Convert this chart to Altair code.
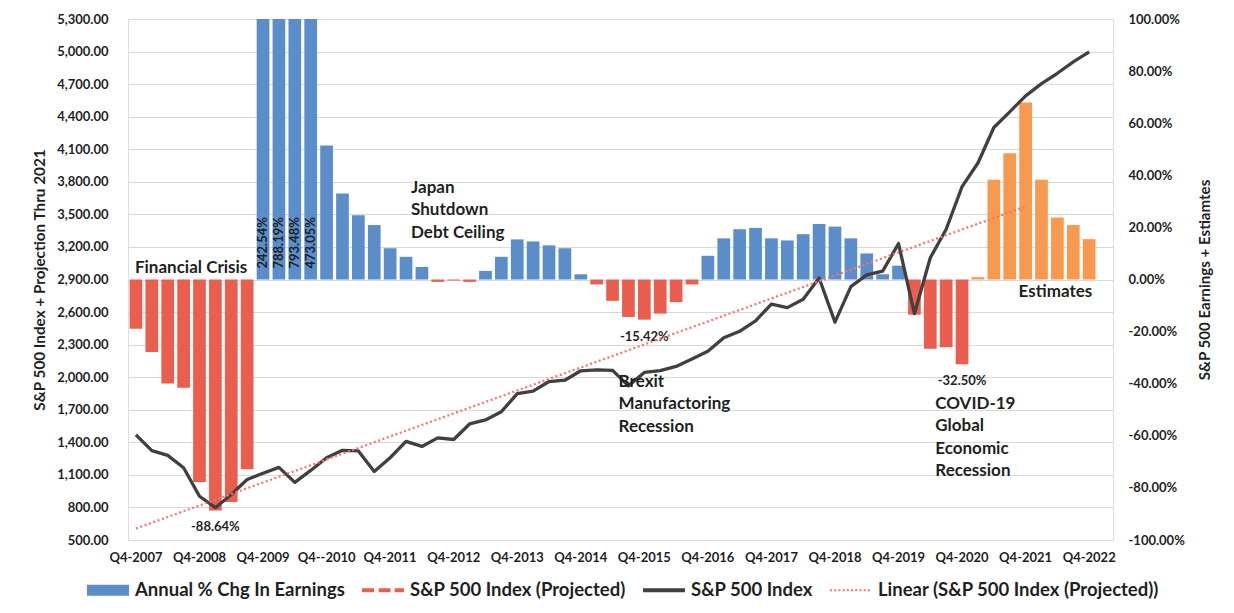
import altair as alt
import pandas as pd

# ---------------- data ----------------
tick_labels = ["Q4-2007", "Q4-2008", "Q4-2009", "Q4--2010", "Q4-2011", "Q4-2012",
               "Q4-2013", "Q4-2014", "Q4-2015", "Q4-2016", "Q4-2017", "Q4-2018",
               "Q4-2019", "Q4-2020", "Q4-2021", "Q4-2022"]
quarters = []
for k, lab in enumerate(tick_labels):
    quarters.append(lab)
    if k < len(tick_labels) - 1:
        quarters += [f"Q{n}-{2008 + k}" for n in (1, 2, 3)]
quarters.append("Q1-2023")

earnings_pct = [-18.9, -27.8, -39.9, -41.6, -77.7, -88.64, -85.4, -72.8,
                242.54, 788.19, 793.48, 473.05, 51.4, 33.0, 24.7, 20.9,
                12.0, 8.7, 4.8, -0.9, -0.4, -0.9, 3.3, 8.7,
                15.4, 14.6, 13.1, 12.0, 2.0, -1.9, -8.2, -14.4,
                -15.42, -13.1, -8.7, -1.9, 9.1, 15.8, 19.3, 19.8,
                15.8, 15.0, 17.4, 21.3, 20.3, 15.8, 10.0, 2.0,
                5.3, -13.5, -26.6, -26.0, -32.50, 0.9, 38.3, 48.5,
                67.9, 38.3, 23.8, 20.9, 15.5]

sp500 = [1468, 1323, 1280, 1166, 903, 798, 919, 1057,
         1115, 1169, 1031, 1141, 1258, 1326, 1321, 1131,
         1258, 1408, 1362, 1441, 1426, 1569, 1606, 1682,
         1848, 1872, 1960, 1972, 2059, 2068, 2063, 1920,
         2044, 2060, 2099, 2168, 2239, 2363, 2423, 2519,
         2674, 2641, 2718, 2914, 2507, 2834, 2942, 2977,
         3231, 2585, 3100, 3363, 3756, 3973, 4300, 4445,
         4592, 4705, 4800, 4905, 4997]

projected_end = "Q4-2021"
estimate_start = "Q1-2021"
trend_quarters = ["Q4-2007", "Q4-2021"]
trend_values = [606, 3573]
label_quarters = ["Q1-2009", "Q4-2015", "Q4-2020"]

legend_names = ["Annual % Chg In Earnings", "S&P 500 Index (Projected)",
                "S&P 500 Index", "Linear (S&P 500 Index (Projected))"]

ann_texts = ["Financial Crisis", "Japan\nShutdown\nDebt Ceiling",
             "Brexit\nManufactoring\nRecession",
             "COVID-19\nGlobal\nEconomic\nRecession", "Estimates"]
ann_quarters = ["Q4-2007", "Q1-2012", "Q2-2015", "Q2-2020", "Q2-2022"]
ann_values = [2958, 3700, 1912, 1710, 2742]

# ---------------- styles ----------------
BLUE = "#5B8DCB"
RED = "#EA5E4F"
ORANGE = "#F79A50"
DARK = "#404040"
SALMON = "#F2776E"
TEXT = "#1F1F1F"
GRID = "#D9D9D9"
FONT = "Lato"

n_data = len(earnings_pct)
est_i = quarters.index(estimate_start)
bar_df = pd.DataFrame({"q": quarters[:n_data], "pct": earnings_pct, "i": list(range(n_data))})
bar_df["kind"] = ["est" if i >= est_i else ("neg" if p < 0 else "pos")
                  for i, p in zip(bar_df["i"], bar_df["pct"])]
bar_df["lbl"] = [f"{p:.2f}%" for p in bar_df["pct"]]
bar_df["base"] = 0

sp_df = pd.DataFrame({"q": quarters[:n_data], "v": sp500, "i": list(range(n_data))})
proj_n = quarters.index(projected_end) + 1
proj_df = sp_df.iloc[:proj_n].copy()
trend_df = pd.DataFrame({"q": trend_quarters, "v": trend_values,
                         "i": [quarters.index(q) for q in trend_quarters]})

x_axis = alt.Axis(values=tick_labels, labelAngle=0, ticks=False, domain=False, grid=False,
                  labelPadding=11, labelFont=FONT, labelFontSize=13, labelFontWeight="bold",
                  labelColor=TEXT, labelOverlap=False, title=None)
x_scale = alt.Scale(domain=quarters, paddingInner=0.2, paddingOuter=0.1)


def X(point=False):
    if point:
        return alt.X("q:N", scale=x_scale, axis=x_axis, bandPosition=0.5)
    return alt.X("q:N", scale=x_scale, axis=x_axis)


left_axis = alt.Axis(orient="left", values=list(range(500, 5301, 300)), format=",.2f",
                     grid=True, gridColor=GRID, gridWidth=1, domain=False, ticks=False,
                     labelPadding=20, labelFont=FONT, labelFontSize=13, labelFontWeight="bold",
                     labelColor=TEXT, labelOverlap=False,
                     title="S&P 500 Index + Projection Thru 2021", titleFont=FONT,
                     titleFontSize=15.3, titleFontWeight="bold", titleColor=TEXT, titlePadding=9)
left_scale = alt.Scale(domain=[500, 5300], nice=False, zero=False)

right_axis = alt.Axis(orient="right", values=list(range(-100, 101, 20)),
                      labelExpr="(datum.value < 0 ? '-' : '') + format(abs(datum.value), '.2f') + '%'",
                      grid=False, domain=False, ticks=False, labelPadding=15, labelAlign="left",
                      labelFont=FONT, labelFontSize=13, labelFontWeight="bold", labelColor=TEXT,
                      labelOverlap=False,
                      title="S&P 500 Earnings + Estiamtes", titleFont=FONT, titleFontSize=15.1,
                      titleFontWeight="bold", titleColor=TEXT, titleAngle=270,
                      titleBaseline="top", titlePadding=13)
right_scale = alt.Scale(domain=[-100, 100], nice=False, zero=False)


def YL(field):
    return alt.Y(f"{field}:Q", scale=left_scale, axis=left_axis)


def YR(field):
    return alt.Y(f"{field}:Q", scale=right_scale, axis=right_axis)


# ---------------- bars group (right axis) ----------------
bars = alt.Chart(bar_df).mark_bar(clip=True).encode(
    x=X(), y=YR("pct"), y2="base:Q",
    color=alt.Color("kind:N", scale=alt.Scale(domain=["pos", "neg", "est"],
                                              range=[BLUE, RED, ORANGE]), legend=None),
)
big_labels = alt.Chart(bar_df).transform_filter("datum.pct > 100").mark_text(
    angle=270, align="left", baseline="middle", dx=11, font=FONT, fontSize=13,
    fontWeight="bold", color=TEXT,
).encode(x=X(True), y=YR("base"), text="lbl:N")
min_labels = alt.Chart(bar_df).transform_filter(
    alt.FieldOneOfPredicate(field="q", oneOf=label_quarters)
).mark_text(align="center", baseline="top", dy=11, font=FONT, fontSize=13,
            fontWeight="bold", color=TEXT).encode(x=X(True), y=YR("pct"), text="lbl:N")

bars_group = alt.layer(bars, big_labels, min_labels)

# ---------------- lines group (left axis) ----------------
proj_line = alt.Chart(proj_df).mark_line(color=RED, strokeDash=[6, 3], strokeWidth=2).encode(
    x=X(True), y=YL("v"), order="i:Q")
sp_line = alt.Chart(sp_df).mark_line(color=DARK, strokeWidth=3.3, strokeJoin="round").encode(
    x=X(True), y=YL("v"), order="i:Q")
trend_line = alt.Chart(trend_df).mark_line(color=SALMON, strokeDash=[2, 2.6], strokeWidth=2.3).encode(
    x=X(True), y=YL("v"), order="i:Q")

ann_styles = [("left", -1), ("left", 5), ("left", 6), ("left", 5), ("center", -2)]
ann_layers = []
for t, q, v, (al, dx) in zip(ann_texts, ann_quarters, ann_values, ann_styles):
    d = pd.DataFrame({"q": [q], "v": [v], "t": [t]})
    ann_layers.append(
        alt.Chart(d).mark_text(align=al, baseline="alphabetic", dx=dx, font=FONT, fontSize=17,
                               fontWeight="bold", color=TEXT, lineBreak="\n", lineHeight=22.5)
        .encode(x=X(True), y=YL("v"), text="t:N")
    )


def rect(x0, x1, h):
    return f"M{x0:.3f},{-h:.3f}H{x1:.3f}V{h:.3f}H{x0:.3f}Z"


sym_bar = rect(-1, 1, 0.26)
sym_dash = rect(-1, -0.42, 0.1) + rect(-0.2, 0.36, 0.1) + rect(0.56, 1, 0.1)
sym_solid = rect(-1, 1, 0.09)
sym_dot = "".join(rect(-1 + k * 0.2, -1 + k * 0.2 + 0.1, 0.05) for k in range(10))

leg = alt.Legend(orient="none", legendX=-41, legendY=550, direction="horizontal", columns=4,
                 title=None, symbolSize=1764, symbolStrokeWidth=0, symbolOpacity=1,
                 labelFont=FONT, labelFontSize=18.5, labelFontWeight="bold", labelColor=TEXT,
                 labelOffset=6, columnPadding=17, labelLimit=600, padding=0)
legend_df = pd.DataFrame({"series": legend_names})
legend_layer = alt.Chart(legend_df).mark_point(filled=True, opacity=0, size=4).encode(
    color=alt.Color("series:N", scale=alt.Scale(domain=legend_names,
                                                range=[BLUE, RED, DARK, SALMON]), legend=leg),
    shape=alt.Shape("series:N", scale=alt.Scale(domain=legend_names,
                                                range=[sym_bar, sym_dash, sym_solid, sym_dot]),
                    legend=leg),
)

lines_group = alt.layer(proj_line, sp_line, trend_line, *ann_layers, legend_layer)

chart = alt.layer(bars_group, lines_group).resolve_scale(
    y="independent", color="independent", shape="independent"
).properties(
    width=985, height=521,
    autosize=alt.AutoSizeParams(type="none"),
    padding={"left": 120, "top": 11, "right": 113, "bottom": 65},
).configure_view(stroke=None).configure(background="white")

chart.save("out.html", embed_options={"renderer": "svg", "actions": False})
